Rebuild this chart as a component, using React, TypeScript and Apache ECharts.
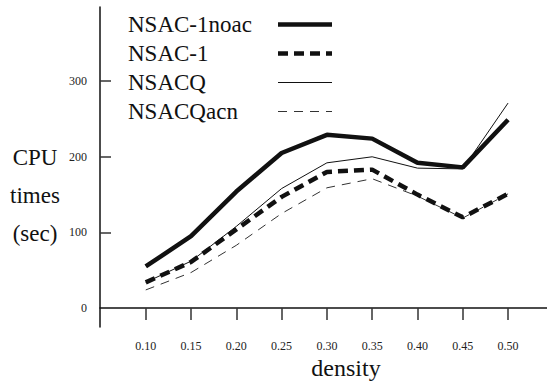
import React, { useEffect, useRef } from "react";
import * as echarts from "echarts";

const densities = [0.1, 0.15, 0.2, 0.25, 0.3, 0.35, 0.4, 0.45, 0.5];
const nsac1noac = [55, 95, 154, 205, 229, 224, 192, 186, 249];
const nsac1 = [34, 61, 104, 147, 180, 183, 150, 120, 151];
const nsacq = [34, 62, 108, 158, 192, 200, 185, 184, 271];
const nsacqacn = [24, 47, 83, 125, 159, 171, 148, 119, 151];
const xTicks = [0.1, 0.15, 0.2, 0.25, 0.3, 0.35, 0.4, 0.45, 0.5];
const yLabels = [0, 100, 200, 300];
const yTicks = [100, 200, 300];

const SERIF = "Liberation Serif";

export default function App() {
  const ref = useRef<HTMLDivElement>(null);
  useEffect(() => {
    if (!ref.current) return;
    const chart = echarts.init(ref.current, null, { renderer: "svg" });
    const pair = (ys: number[]) => densities.map((d, i) => [d, ys[i]]);
    chart.setOption({
      animation: false,
      backgroundColor: "#fff",
      textStyle: { fontFamily: SERIF },
      grid: { left: 100, right: 0, top: 7, bottom: 54 },
      legend: {
        orient: "vertical",
        left: 128,
        top: 10,
        align: "right",
        itemWidth: 54,
        itemHeight: 14,
        itemGap: 0,
        padding: 0,
        itemStyle: { opacity: 0 },
        lineStyle: { width: "inherit", type: "inherit" },
        formatter: (name: string) => `{a|${name}}`,
        textStyle: {
          fontFamily: SERIF,
          fontSize: 23,
          color: "#111",
          lineHeight: 29,
          rich: {
            a: {
              fontFamily: SERIF,
              fontSize: 23,
              color: "#111",
              width: 145,
              align: "left",
              lineHeight: 29,
            },
          },
        },
        data: ["NSAC-1noac", "NSAC-1", "NSACQ", "NSACQacn"],
      },
      xAxis: {
        type: "value",
        min: 0.0495,
        max: 0.543,
        splitLine: { show: false },
        axisLine: { show: true, lineStyle: { color: "#111", width: 1.5 } },
        axisTick: {
          show: true,
          length: 12,
          inside: false,
          customValues: xTicks,
          lineStyle: { color: "#333", width: 1.5 },
        },
        axisLabel: {
          customValues: xTicks,
          formatter: (v: number) => v.toFixed(2),
          fontFamily: SERIF,
          fontSize: 12,
          color: "#222",
          margin: 13,
        },
      },
      yAxis: {
        type: "value",
        min: -25,
        max: 398,
        splitLine: { show: false },
        axisLine: { show: true, lineStyle: { color: "#111", width: 1.5 } },
        axisTick: {
          show: true,
          inside: true,
          length: 11,
          customValues: yTicks,
          lineStyle: { color: "#333", width: 1.5 },
        },
        axisLabel: {
          customValues: yLabels,
          fontFamily: SERIF,
          fontSize: 12,
          color: "#222",
          margin: 13,
        },
      },
      graphic: [
        {
          type: "text",
          x: 35,
          y: 138,
          style: {
            text: "CPU\ntimes\n(sec)",
            fontFamily: SERIF,
            fontSize: 23,
            fill: "#111",
            lineHeight: 38,
            align: "center",
          },
        },
        {
          type: "text",
          x: 346,
          y: 356,
          style: {
            text: "density",
            fontFamily: SERIF,
            fontSize: 24,
            fill: "#111",
            align: "center",
          },
        },
      ],
      series: [
        {
          name: "NSACQacn",
          type: "line",
          symbol: "none",
          data: pair(nsacqacn),
          lineStyle: { color: "#333", width: 1, type: [9, 7] },
          itemStyle: { color: "#333" },
        },
        {
          name: "NSACQ",
          type: "line",
          symbol: "none",
          data: pair(nsacq),
          lineStyle: { color: "#111", width: 1 },
          itemStyle: { color: "#111" },
        },
        {
          name: "NSAC-1",
          type: "line",
          symbol: "none",
          data: pair(nsac1),
          lineStyle: { color: "#111", width: 4.5, type: [10, 6] },
          itemStyle: { color: "#111" },
        },
        {
          name: "NSAC-1noac",
          type: "line",
          symbol: "none",
          data: pair(nsac1noac),
          lineStyle: { color: "#111", width: 4.5 },
          itemStyle: { color: "#111" },
        },
      ],
    });
    return () => chart.dispose();
  }, []);
  return <div ref={ref} style={{ width: 547, height: 381, position: "absolute", left: 0, top: 0 }} />;
}
